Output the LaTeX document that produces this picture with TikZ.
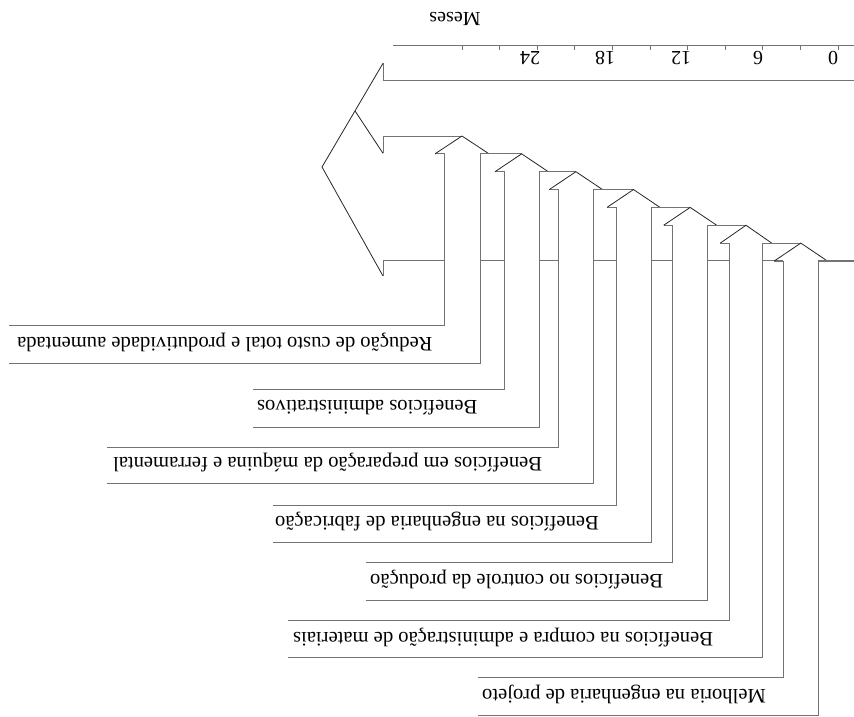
\documentclass[tikz,border=0pt]{standalone}
\usepackage{fontspec}
\setmainfont{Liberation Serif}
\usetikzlibrary{calc}
\begin{document}
\begin{tikzpicture}[x=1pt,y=-1pt,
  rule/.style={draw=black!55, line width=0.8pt},
  edge/.style={draw=black!85, line width=0.8pt, line join=miter},
  lbl/.style={rotate=180, anchor=east, inner sep=0pt,
    font=\fontsize{20.6}{24}\selectfont, text height=14pt, text depth=4pt},
  num/.style={rotate=180, inner sep=0pt, font=\fontsize{20}{24}\selectfont}]
\useasboundingbox (0,0) rectangle (854,717);

% time axis (months)
\coordinate (axL) at (393,45.7);
\coordinate (axR) at (854,45.7);
\draw[rule] (axL) -- (axR);
\foreach \k in {0,...,10}
  \draw[rule] (462+37.6*\k,45.7) -- ++(0,4.5);
\node[num] (m24) at (530,58) {24};
\node[num] (m18) at (605,58) {18};
\node[num] (m12) at (681,58) {12};
\node[num] (m6)  at (758,58) {6};
\node[num] (m0)  at (833,58) {0};
\node[num] (meses) at (455,19) {Meses};

% large arrow of the total result
\coordinate (bTop) at (383,63.3);
\coordinate (bTip) at (322,167);
\coordinate (bBot) at (383,276);
\coordinate (bNotch) at ($(bTop)!0.459!(bTip)$);
\draw[rule] (854,80) -- (383,80) -- (bTop);
\draw[edge] (bTop) -- (bTip) -- (bBot);
\draw[rule] (bBot) -- (383,260.8) -- (444,260.8);
\draw[edge] (bNotch) -- (383,153.3);
\draw[rule] (383,153.3) -- (383,136) -- (462,136);

% stepped benefit arrows with their label rails
\foreach \L/\R/\ty/\lt/\lb/\xl/\nx/\nl in {
    444/480/136/325/363.3/9/521.65/504,
    504/539.3/153.85/389.3/427.3/253/575.9/558.3,
    558.3/593.5/171.7/447/483.3/107/633.5/616,
    616/651/189.55/505/542.7/273/690.2/672.7,
    672.7/707.7/207.4/562.5/600/366/746/729.3,
    729.3/762.7/225.25/620/657.5/288/800.8/783.3,
    783.3/818.3/243.1/677.5/715/478/854/854}{
  \pgfmathsetmacro{\cx}{(\L+\R)/2}
  \pgfmathsetmacro{\b}{\ty+17.85}
  \draw[rule] (\xl,\lt) -- (\L,\lt) -- (\L,\b) -- (\L-9,\b);
  \draw[edge] (\L-9,\b) -- (\cx,\ty) -- (\R+9,\b);
  \draw[rule] (\R+9,\b) -- (\R,\b) -- (\R,\lb) -- (\xl,\lb);
  \draw[rule] (\R+9,\b) -- (\nx,\b);
  \draw[rule] (\R,260.8) -- (\nl,260.8);
}

% labels
\node[lbl] (t1) at (17,342.5) {Redução de custo total e produtividade aumentada};
\node[lbl] (t2) at (257,405) {Benefícios administrativos};
\node[lbl] (t3) at (113,462.5) {Benefícios em preparação da máquina e ferramental};
\node[lbl] (t4) at (275,521.5) {Benefícios na engenharia de fabricação};
\node[lbl] (t5) at (370,579.5) {Benefícios no controle da produção};
\node[lbl] (t6) at (293,637) {Benefícios na compra e administração de materiais};
\node[lbl] (t7) at (482,694.5) {Melhoria na engenharia de projeto};
\end{tikzpicture}
\end{document}
